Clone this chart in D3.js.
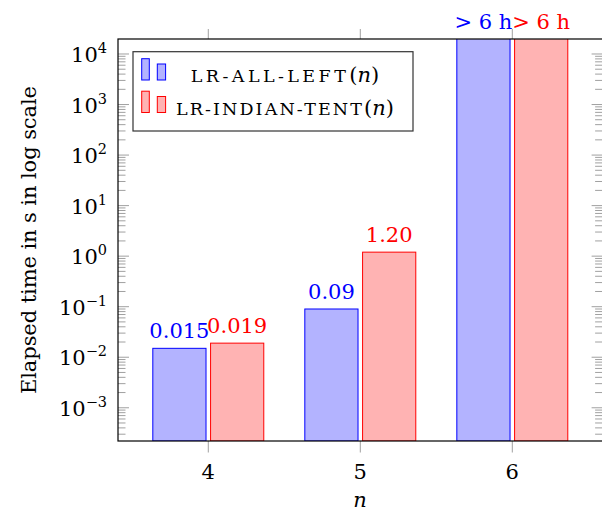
<!DOCTYPE html>
<html>
<head>
<meta charset="utf-8">
<script src="https://cdn.jsdelivr.net/npm/d3@7"></script>
<style>
  body { margin: 0; background: #fff; }
  svg { display: block; }
  text { font-family: "DejaVu Serif", serif; }
</style>
</head>
<body>
<svg id="chart" width="602" height="513"></svg>
<script>
// data (seconds)
const categories = [4, 5, 6];
const allLeft = [0.015, 0.09, 21600];
const indianTent = [0.019, 1.2, 21600];
const allLeftLabels = ["0.015", "0.09", "> 6 h"];
const indianTentLabels = ["0.019", "1.20", "> 6 h"];
const yTickExps = [-3, -2, -1, 0, 1, 2, 3, 4];
const seriesNames = ["LR-ALL-LEFT", "LR-INDIAN-TENT"];

const svg = d3.select("#chart");

const plotLeft = 118, plotRight = 602.6, plotTop = 39, plotBottom = 441;
const fs = 21;

const x = d3.scaleLinear().domain([3.406, 6.594]).range([plotLeft, plotRight]);
const y = d3.scaleLog().domain([2.2e-4, 1.98e4]).range([plotBottom, plotTop]);

const barW = 0.35;   // in x units
const offset = 0.19;

const series = [
    { values: allLeft, labels: allLeftLabels, fill: "#b3b3ff", stroke: "#0000ff", dx: -offset },
    { values: indianTent, labels: indianTentLabels, fill: "#ffb3b3", stroke: "#ff0000", dx: offset }
];

svg.append("clipPath").attr("id", "clip")
    .append("rect")
    .attr("x", plotLeft).attr("y", plotTop)
    .attr("width", plotRight - plotLeft).attr("height", plotBottom - plotTop);

// bars
const plot = svg.append("g").attr("clip-path", "url(#clip)");
series.forEach(s => {
    plot.selectAll(null)
        .data(categories)
        .enter()
        .append("rect")
        .attr("x", d => x(d + s.dx - barW / 2))
        .attr("width", x(barW) - x(0))
        .attr("y", (d, i) => y(s.values[i]))
        .attr("height", (d, i) => plotBottom - y(s.values[i]))
        .attr("fill", s.fill)
        .attr("stroke", s.stroke)
        .attr("stroke-width", 1);
});

// y ticks (major + minor), left and right, pointing inward
const tickColor = "#a0a0a0";
const yTicks = svg.append("g");
yTickExps.concat([-4]).forEach(e => {
    for (let m = 1; m <= 9; m++) {
        const v = m * Math.pow(10, e);
        if (v < y.domain()[0] || v > y.domain()[1]) continue;
        const len = m === 1 ? 11 : 7.5;
        const yy = y(v);
        yTicks.append("line")
            .attr("x1", plotLeft).attr("x2", plotLeft + len)
            .attr("y1", yy).attr("y2", yy)
            .attr("stroke", tickColor).attr("stroke-width", 1);
        yTicks.append("line")
            .attr("x1", plotRight).attr("x2", plotRight - len)
            .attr("y1", yy).attr("y2", yy)
            .attr("stroke", tickColor).attr("stroke-width", 1);
    }
});

// y tick labels
yTickExps.forEach(e => {
    const t = svg.append("text")
        .attr("x", 107)
        .attr("y", y(Math.pow(10, e)) + 8)
        .attr("text-anchor", "end")
        .attr("font-size", fs)
        .attr("fill", "#000");
    t.append("tspan").text("10");
    t.append("tspan")
        .attr("font-size", 14.5)
        .attr("dy", -9)
        .text(e < 0 ? "\u2212" + Math.abs(e) : String(e));
});

// x ticks, outside on top and bottom
categories.forEach(c => {
    svg.append("line")
        .attr("x1", x(c)).attr("x2", x(c))
        .attr("y1", plotBottom).attr("y2", plotBottom + 11.5)
        .attr("stroke", tickColor);
    svg.append("line")
        .attr("x1", x(c)).attr("x2", x(c))
        .attr("y1", plotTop).attr("y2", plotTop - 10)
        .attr("stroke", tickColor);
    svg.append("text")
        .attr("x", x(c))
        .attr("y", 479)
        .attr("text-anchor", "middle")
        .attr("font-size", fs)
        .text(c);
});

// frame
svg.append("rect")
    .attr("x", plotLeft).attr("y", plotTop)
    .attr("width", plotRight - plotLeft).attr("height", plotBottom - plotTop)
    .attr("fill", "none")
    .attr("stroke", "#000")
    .attr("stroke-width", 1.2);

// nodes near coords
series.forEach(s => {
    svg.selectAll(null)
        .data(categories)
        .enter()
        .append("text")
        .attr("x", d => x(d + s.dx))
        .attr("y", (d, i) => Math.max(y(s.values[i]), plotTop) - 10)
        .attr("text-anchor", "middle")
        .attr("font-size", fs)
        .attr("fill", s.stroke)
        .text((d, i) => s.labels[i]);
});

// axis labels
svg.append("text")
    .attr("x", 360)
    .attr("y", 507)
    .attr("text-anchor", "middle")
    .attr("font-size", fs)
    .attr("font-style", "italic")
    .text("n");

svg.append("text")
    .attr("transform", `translate(36,${(plotTop + plotBottom) / 2}) rotate(-90)`)
    .attr("text-anchor", "middle")
    .attr("font-size", fs)
    .attr("textLength", 308)
    .attr("lengthAdjust", "spacing")
    .text("Elapsed time in s in log scale");

// legend
const legend = svg.append("g");
legend.append("rect")
    .attr("x", 133).attr("y", 51.7)
    .attr("width", 280).attr("height", 79.3)
    .attr("fill", "#fff")
    .attr("stroke", "#333")
    .attr("stroke-width", 1.2);

const legendRows = [
    { name: seriesNames[0], s: series[0], base: 82, textLen: 155 },
    { name: seriesNames[1], s: series[1], base: 114.5, textLen: 186 }
];
legendRows.forEach(r => {
    legend.append("rect")
        .attr("x", 141.7).attr("y", r.base - 23.3)
        .attr("width", 7.6).attr("height", 21.3)
        .attr("fill", r.s.fill).attr("stroke", r.s.stroke);
    legend.append("rect")
        .attr("x", 157.3).attr("y", r.base - 18)
        .attr("width", 8.3).attr("height", 16)
        .attr("fill", r.s.fill).attr("stroke", r.s.stroke);
    const t = legend.append("text")
        .attr("x", 285)
        .attr("y", r.base)
        .attr("text-anchor", "middle")
        .attr("font-size", fs);
    t.append("tspan")
        .attr("font-size", 17.5)
        .attr("textLength", r.textLen)
        .attr("lengthAdjust", "spacing")
        .text(r.name);
    t.append("tspan").text("(");
    t.append("tspan").attr("font-style", "italic").text("n");
    t.append("tspan").text(")");
});
</script>
</body>
</html>
